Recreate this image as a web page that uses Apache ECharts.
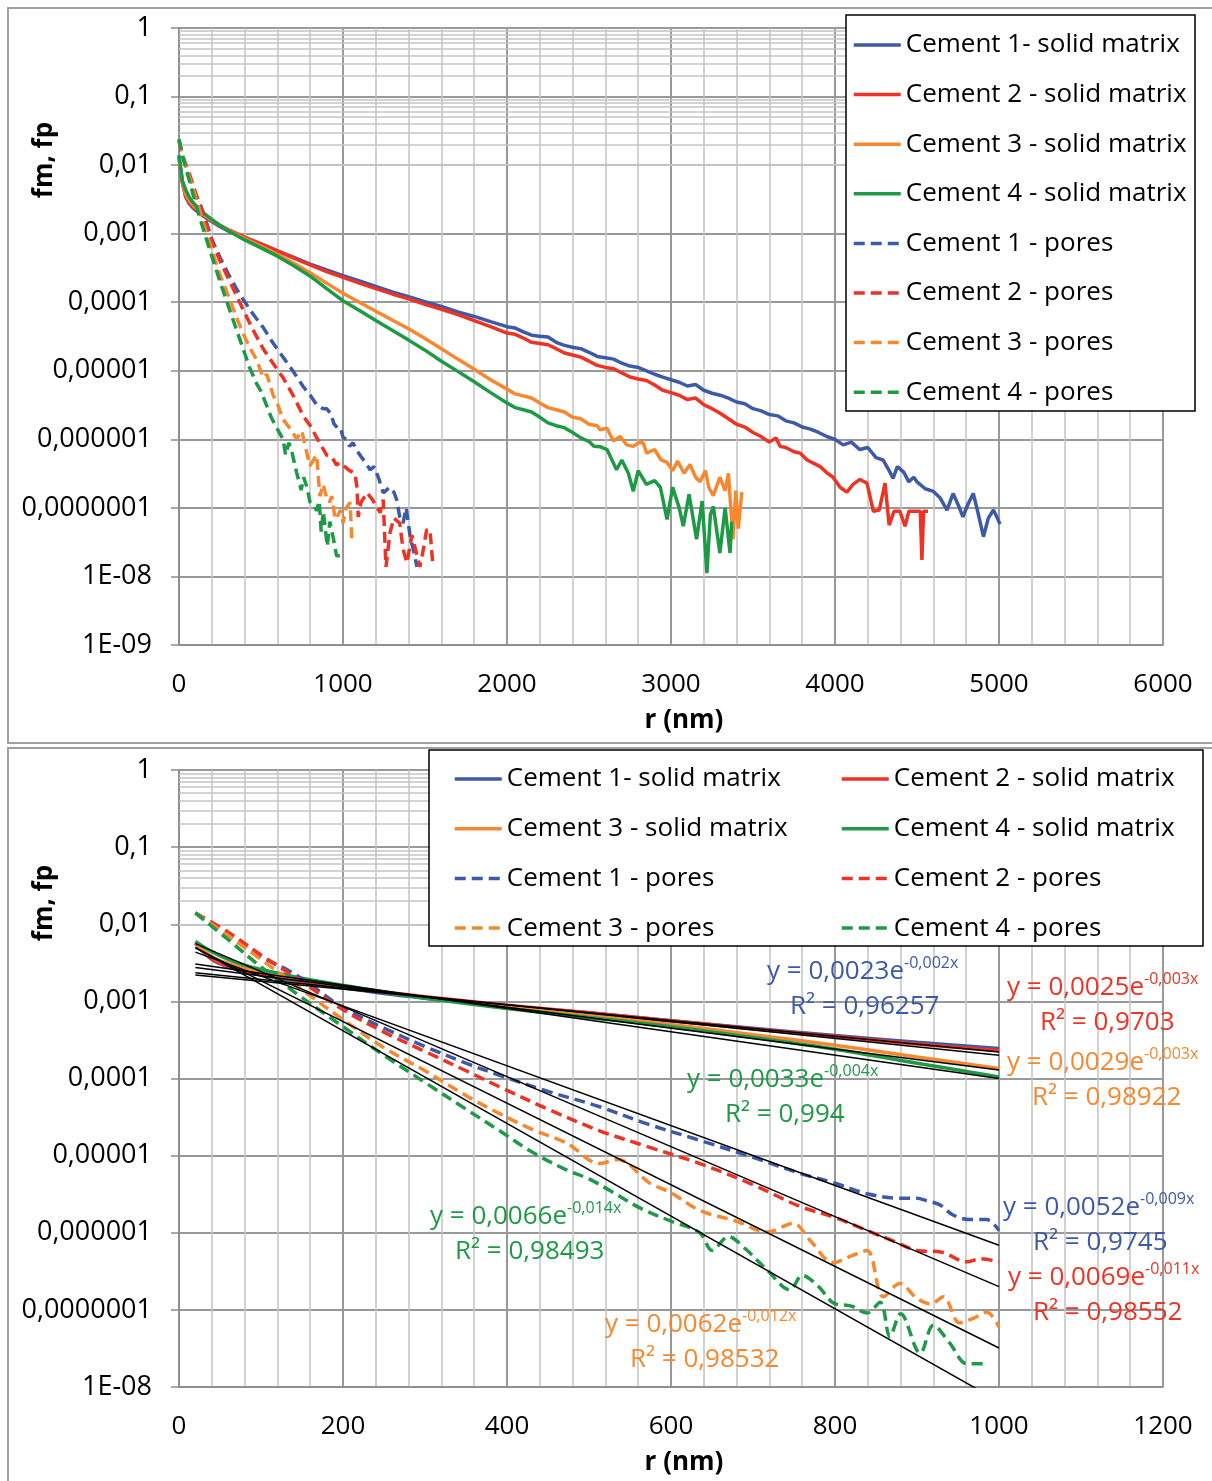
<!DOCTYPE html>
<html>
<head>
<meta charset="utf-8">
<title>fm, fp vs r</title>
<script src="https://cdn.jsdelivr.net/npm/echarts@6/dist/echarts.min.js"></script>
<style>
  html, body { margin: 0; padding: 0; background: #fff; }
  #main { width: 1212px; height: 1481px; }
</style>
</head>
<body>
<div id="main"></div>
<script>
// [r (nm), f] pairs
const cement1Solid = [[0,1.3e-2],[20,5.7e-3],[40,3.5e-3],[60,2.8e-3],[80,2.45e-3],[100,2.2e-3],[150,1.8e-3],[200,1.5e-3],[250,1.26e-3],[300,1.1e-3],[400,8.7e-4],[500,7.1e-4],[600,5.6e-4],[700,4.5e-4],[800,3.6e-4],[900,2.95e-4],[1000,2.45e-4],[1100,2.05e-4],[1200,1.7e-4],[1300,1.41e-4],[1400,1.2e-4],[1500,1.02e-4],[1600,8.7e-5],[1700,7.2e-5],[1800,6.2e-5],[1900,5.2e-5],[2000,4.4e-5],[2050,4.2e-5],[2100,3.7e-5],[2150,3.3e-5],[2200,3.2e-5],[2250,3.1e-5],[2300,2.6e-5],[2350,2.35e-5],[2400,2.2e-5],[2450,2.1e-5],[2500,1.86e-5],[2550,1.62e-5],[2600,1.55e-5],[2650,1.48e-5],[2700,1.29e-5],[2750,1.17e-5],[2800,1.12e-5],[2850,1.0e-5],[2900,8.9e-6],[2950,8.1e-6],[3000,7.4e-6],[3050,6.8e-6],[3100,6.0e-6],[3150,6.3e-6],[3200,5.2e-6],[3250,4.7e-6],[3300,4.4e-6],[3350,4.0e-6],[3400,3.5e-6],[3450,3.3e-6],[3500,2.8e-6],[3550,2.6e-6],[3600,2.3e-6],[3650,2.2e-6],[3700,1.86e-6],[3750,1.74e-6],[3800,1.51e-6],[3850,1.41e-6],[3900,1.26e-6],[3950,1.1e-6],[4000,1.0e-6],[4050,8.3e-7],[4100,9.1e-7],[4150,7.1e-7],[4200,7.6e-7],[4250,5.4e-7],[4293,5.0e-7],[4330,3.5e-7],[4354,2.7e-7],[4380,4.0e-7],[4420,3.3e-7],[4450,2.4e-7],[4480,2.8e-7],[4500,2.4e-7],[4550,1.9e-7],[4600,1.74e-7],[4640,1.41e-7],[4683,9.3e-8],[4720,1.62e-7],[4750,1.12e-7],[4780,7.4e-8],[4810,1.12e-7],[4843,1.62e-7],[4870,8.9e-8],[4905,3.8e-8],[4935,7.1e-8],[4966,9.3e-8],[4990,7.1e-8],[5006,5.8e-8]];
const cement2Solid = [[0,1.3e-2],[20,5.7e-3],[40,3.55e-3],[60,2.9e-3],[80,2.5e-3],[100,2.3e-3],[150,1.86e-3],[200,1.55e-3],[250,1.32e-3],[300,1.15e-3],[400,8.9e-4],[500,7.1e-4],[600,5.6e-4],[700,4.4e-4],[800,3.5e-4],[900,2.8e-4],[1000,2.3e-4],[1100,1.9e-4],[1200,1.58e-4],[1300,1.32e-4],[1400,1.12e-4],[1500,9.3e-5],[1600,7.9e-5],[1700,6.6e-5],[1800,5.4e-5],[1900,4.4e-5],[2000,3.55e-5],[2050,3.4e-5],[2100,3.0e-5],[2150,2.6e-5],[2200,2.5e-5],[2250,2.4e-5],[2300,2.1e-5],[2350,1.82e-5],[2400,1.7e-5],[2450,1.58e-5],[2500,1.38e-5],[2550,1.2e-5],[2600,1.12e-5],[2650,1.07e-5],[2700,9.3e-6],[2750,8.1e-6],[2800,7.6e-6],[2850,7.2e-6],[2900,6.2e-6],[2950,5.2e-6],[3000,4.8e-6],[3050,4.4e-6],[3100,3.8e-6],[3150,4.0e-6],[3200,3.2e-6],[3250,2.8e-6],[3300,2.4e-6],[3350,2.0e-6],[3400,1.66e-6],[3450,1.51e-6],[3500,1.26e-6],[3543,1.12e-6],[3600,9.1e-7],[3640,1.05e-6],[3665,7.9e-7],[3700,7.6e-7],[3750,6.6e-7],[3787,6.3e-7],[3830,5.0e-7],[3868,4.5e-7],[3910,4.0e-7],[3947,3.3e-7],[3988,2.8e-7],[4031,2.0e-7],[4072,1.7e-7],[4110,2.2e-7],[4152,2.6e-7],[4195,2.3e-7],[4234,8.9e-8],[4270,9.3e-8],[4305,2.3e-7],[4330,5.6e-8],[4360,8.9e-8],[4396,8.9e-8],[4427,5.4e-8],[4450,8.9e-8],[4520,8.9e-8],[4530,1.74e-8],[4540,8.9e-8],[4567,8.9e-8]];
const cement3Solid = [[0,1.26e-2],[20,5.7e-3],[40,3.8e-3],[60,3.1e-3],[80,2.7e-3],[100,2.4e-3],[150,1.9e-3],[200,1.58e-3],[250,1.32e-3],[300,1.12e-3],[400,8.5e-4],[500,6.6e-4],[600,5.0e-4],[700,3.7e-4],[800,2.7e-4],[900,1.9e-4],[1000,1.35e-4],[1100,1.0e-4],[1200,7.4e-5],[1300,5.5e-5],[1400,4.1e-5],[1500,2.95e-5],[1600,2.1e-5],[1700,1.48e-5],[1800,1.05e-5],[1900,7.4e-6],[2000,5.4e-6],[2050,4.6e-6],[2100,4.3e-6],[2150,4.0e-6],[2200,3.4e-6],[2250,2.9e-6],[2300,2.7e-6],[2350,2.5e-6],[2400,2.1e-6],[2450,2.0e-6],[2500,1.66e-6],[2550,1.58e-6],[2567,1.38e-6],[2610,1.45e-6],[2648,9.5e-7],[2690,1.1e-6],[2730,8.3e-7],[2770,7.9e-7],[2800,8.9e-7],[2830,8.9e-7],[2852,6.3e-7],[2900,7.1e-7],[2940,5.0e-7],[2976,4.6e-7],[3010,3.5e-7],[3040,4.8e-7],[3080,3.2e-7],[3116,4.3e-7],[3150,2.8e-7],[3177,2.4e-7],[3210,3.5e-7],[3230,2.0e-7],[3258,1.51e-7],[3298,2.8e-7],[3330,1.78e-7],[3350,3.2e-7],[3378,3.5e-8],[3395,1.78e-7],[3410,5.0e-8],[3432,1.7e-7]];
const cement4Solid = [[0,1.4e-2],[20,6.0e-3],[40,4.4e-3],[60,3.5e-3],[80,2.95e-3],[100,2.6e-3],[150,2.0e-3],[200,1.62e-3],[250,1.32e-3],[300,1.1e-3],[400,8.1e-4],[500,6.2e-4],[600,4.7e-4],[700,3.4e-4],[800,2.4e-4],[900,1.58e-4],[1000,1.05e-4],[1100,7.6e-5],[1200,5.4e-5],[1300,3.9e-5],[1400,2.8e-5],[1500,2.0e-5],[1600,1.38e-5],[1700,9.8e-6],[1800,6.9e-6],[1900,4.8e-6],[2000,3.4e-6],[2050,2.9e-6],[2100,2.7e-6],[2150,2.5e-6],[2200,2.1e-6],[2250,1.74e-6],[2300,1.58e-6],[2350,1.48e-6],[2400,1.26e-6],[2450,1.05e-6],[2500,9.3e-7],[2530,7.9e-7],[2567,7.8e-7],[2610,7.1e-7],[2668,3.6e-7],[2700,5.0e-7],[2740,3.2e-7],[2770,1.74e-7],[2800,3.5e-7],[2850,2.2e-7],[2900,2.5e-7],[2935,2.0e-7],[2976,6.8e-8],[3010,2.0e-7],[3050,1.0e-7],[3075,5.4e-8],[3110,1.58e-7],[3156,3.5e-8],[3190,1.26e-7],[3219,1.12e-8],[3240,7.9e-8],[3258,1.05e-7],[3298,2.2e-8],[3330,1.0e-7],[3360,2.2e-8],[3370,6.3e-8]];

const cement1Pores = [[0,2.3e-2],[20,1.4e-2],[60,7.1e-3],[100,3.8e-3],[131,2.6e-3],[152,1.9e-3],[200,8.3e-4],[250,4.5e-4],[300,2.6e-4],[350,1.58e-4],[391,1.1e-4],[450,6.8e-5],[513,4.3e-5],[570,2.6e-5],[635,1.58e-5],[700,9.5e-6],[757,5.9e-6],[800,4.4e-6],[839,3.2e-6],[879,2.8e-6],[900,2.8e-6],[912,2.6e-6],[928,2.3e-6],[944,1.7e-6],[965,1.48e-6],[985,1.48e-6],[1000,1.07e-6],[1020,1.0e-6],[1040,7.9e-7],[1061,8.9e-7],[1080,7.1e-7],[1110,5.6e-7],[1140,4.5e-7],[1165,3.6e-7],[1190,4.0e-7],[1220,2.6e-7],[1245,1.66e-7],[1285,2.0e-7],[1310,1.7e-7],[1327,1.32e-7],[1346,7.4e-8],[1366,6.0e-8],[1385,1.0e-7],[1410,3.8e-8],[1428,2.5e-8],[1451,1.38e-8]];
const cement2Pores = [[0,2.3e-2],[20,1.4e-2],[60,7.9e-3],[100,4.0e-3],[152,1.74e-3],[200,7.8e-4],[250,4.0e-4],[300,2.24e-4],[350,1.26e-4],[391,7.8e-5],[450,4.0e-5],[513,2.1e-5],[570,1.32e-5],[635,7.9e-6],[700,4.2e-6],[757,2.2e-6],[800,1.58e-6],[839,1.07e-6],[870,7.9e-7],[900,5.9e-7],[930,5.6e-7],[961,4.2e-7],[977,4.6e-7],[1000,4.2e-7],[1040,3.5e-7],[1073,3.2e-7],[1085,2.0e-7],[1093,7.4e-8],[1110,1.2e-7],[1146,1.66e-7],[1180,1.32e-7],[1226,8.5e-8],[1245,1.32e-7],[1262,1.38e-8],[1287,4.4e-8],[1310,7.1e-8],[1346,6.0e-8],[1366,2.5e-8],[1390,1.58e-8],[1420,4.0e-8],[1469,1.38e-8],[1490,2.5e-8],[1510,4.8e-8],[1530,4.8e-8],[1549,1.38e-8]];
const cement3Pores = [[0,2.3e-2],[20,1.4e-2],[60,7.1e-3],[100,3.5e-3],[150,1.41e-3],[200,5.8e-4],[250,2.5e-4],[300,1.26e-4],[350,6.0e-5],[391,3.5e-5],[430,2.2e-5],[473,1.45e-5],[513,7.9e-6],[535,8.9e-6],[574,4.4e-6],[600,3.3e-6],[635,1.95e-6],[680,1.41e-6],[717,1.02e-6],[749,1.32e-6],[770,7.9e-7],[798,4.1e-7],[820,5.0e-7],[839,5.9e-7],[859,1.48e-7],[879,2.2e-7],[900,1.41e-7],[917,1.2e-7],[932,1.48e-7],[952,6.8e-8],[970,7.9e-8],[985,9.3e-8],[1000,6.0e-8],[1020,1.0e-7],[1043,1.2e-7],[1055,3.1e-8]];
const cement4Pores = [[0,2.4e-2],[20,1.4e-2],[60,6.3e-3],[100,2.8e-3],[150,1.12e-3],[200,4.7e-4],[250,2.0e-4],[300,8.9e-5],[350,4.0e-5],[391,2.1e-5],[430,1.12e-5],[473,6.5e-6],[500,5.0e-6],[526,3.5e-6],[562,2.1e-6],[600,1.41e-6],[635,1.0e-6],[650,5.9e-7],[670,8.9e-7],[690,6.3e-7],[717,3.3e-7],[745,1.82e-7],[760,2.8e-7],[780,2.0e-7],[798,1.23e-7],[820,1.12e-7],[839,9.1e-8],[855,1.26e-7],[867,4.5e-8],[880,8.9e-8],[904,2.75e-8],[920,6.3e-8],[940,3.7e-8],[961,2.0e-8],[981,2.0e-8]];

// exponential trendlines of the lower plot, end points [r, f]
const trendSolid = [
  [[20, 2.2e-3], [1000, 2.2e-4]],
  [[20, 2.35e-3], [1000, 2.0e-4]],
  [[20, 2.75e-3], [1000, 1.29e-4]],
  [[20, 3.05e-3], [1000, 1.0e-4]]
];
const trendPores = [
  [[20, 4.35e-3], [1000, 6.9e-7]],
  [[20, 5.6e-3], [1000, 2.0e-7]],
  [[20, 4.9e-3], [1000, 3.2e-8]],
  [[20, 5.0e-3], [1000, 6.5e-9]]
];
// trendline labels: solid 1..4, then pores 1..4
const fitCoef = ['0,0023', '0,0025', '0,0029', '0,0033', '0,0052', '0,0069', '0,0062', '0,0066'];
const fitExp = ['-0,002x', '-0,003x', '-0,003x', '-0,004x', '-0,009x', '-0,011x', '-0,012x', '-0,014x'];
const fitR2 = ['0,96257', '0,9703', '0,98922', '0,994', '0,9745', '0,98552', '0,98532', '0,98493'];

const seriesNames = ['Cement 1- solid matrix', 'Cement 2 - solid matrix', 'Cement 3 - solid matrix', 'Cement 4 - solid matrix',
  'Cement 1 - pores', 'Cement 2 - pores', 'Cement 3 - pores', 'Cement 4 - pores'];
const yTickLabels = ['1', '0,1', '0,01', '0,001', '0,0001', '0,00001', '0,000001', '0,0000001', '1E-08', '1E-09'];
const xTopTicks = [0, 6000, 1000];
const xBottomTicks = [0, 1200, 200];

const colors = ['#3D5AA8', '#EE3224', '#F7882F', '#1E9A47'];
const FONT = '"Open Sans", "Noto Sans", sans-serif';

var myChart = echarts.init(document.getElementById('main'));

const solidSets = [cement1Solid, cement2Solid, cement3Solid, cement4Solid];
const poreSets = [cement1Pores, cement2Pores, cement3Pores, cement4Pores];
const zoomPart = d => d.filter(p => p[0] >= 20 && p[0] <= 1000);

// Excel-style log minor gridlines (2..9 in each decade)
function logMinor(lo, hi) {
  let out = [];
  for (let e = lo; e < hi; e++) {
    for (let m = 2; m <= 9; m++) out.push({ yAxis: m * Math.pow(10, e) });
  }
  return out;
}

function xAxisOpt(idx, ticks) {
  return {
    gridIndex: idx, type: 'value', min: ticks[0], max: ticks[1], interval: ticks[2],
    name: 'r (nm)', nameLocation: 'middle', nameGap: 63,
    nameTextStyle: { fontSize: 26, fontWeight: 'bold', color: '#000', fontFamily: FONT, padding: [0, 0, 0, 26] },
    axisLine: { show: true, lineStyle: { color: '#8c8c8c', width: 1.5 } },
    axisTick: { show: false },
    axisLabel: { fontSize: 26, color: '#000', margin: 27, fontFamily: FONT, formatter: v => String(v) },
    splitLine: { show: true, lineStyle: { color: '#999999', width: 2 } },
    minorTick: { show: false, splitNumber: 5 },
    minorSplitLine: { show: true, lineStyle: { color: '#c4c4c4', width: 1.5 } }
  };
}

function yAxisOpt(idx, minExp) {
  return {
    gridIndex: idx, type: 'log', logBase: 10, min: Math.pow(10, minExp), max: 1,
    axisLine: { show: true, onZero: false, lineStyle: { color: '#8c8c8c', width: 1.5 } },
    axisTick: { show: true, length: 8, lineStyle: { color: '#8c8c8c', width: 1.5 } },
    axisLabel: {
      fontSize: 27, color: '#000', margin: 27, fontFamily: FONT,
      formatter: v => yTickLabels[Math.round(-Math.log10(v))]
    },
    splitLine: { show: true, lineStyle: { color: '#999999', width: 2 } }
  };
}

let series = [];
[0, 1].forEach(g => {
  series.push({
    type: 'line', name: 'minor-grid-' + g, xAxisIndex: g, yAxisIndex: g, data: [], silent: true,
    markLine: {
      silent: true, z: 1, symbol: ['none', 'none'], label: { show: false },
      lineStyle: { color: '#c4c4c4', width: 1.5, type: 'solid' },
      data: logMinor(g === 0 ? -9 : -8, 0)
    }
  });
});

function dataSeries(g, i, dashed, data) {
  return {
    type: 'line', name: seriesNames[i + (dashed ? 4 : 0)], xAxisIndex: g, yAxisIndex: g,
    data: data, showSymbol: false, symbol: 'none', smooth: g === 1 ? 0.35 : false,
    color: colors[i],
    lineStyle: { width: 3.5, color: colors[i], type: dashed ? [11, 6] : 'solid' },
    z: 2
  };
}

for (let i = 0; i < 4; i++) series.push(dataSeries(0, i, false, solidSets[i]));
for (let i = 0; i < 4; i++) series.push(dataSeries(0, i, true, poreSets[i]));
for (let i = 0; i < 4; i++) series.push(dataSeries(1, i, false, zoomPart(solidSets[i])));
for (let i = 0; i < 4; i++) series.push(dataSeries(1, i, true, zoomPart(poreSets[i])));
trendSolid.concat(trendPores).forEach((t, k) => {
  series.push({
    type: 'line', name: 'trend-' + k, xAxisIndex: 1, yAxisIndex: 1, data: t,
    symbol: 'none', silent: true, clip: true,
    lineStyle: { color: '#000', width: 1.5 }, z: 3
  });
});

// label positions (left x, middle y) of equation and R² lines
const fitLabelPos = [[767, 972], [1007, 988], [1007, 1063], [687, 1080], [1003, 1208], [1008, 1278], [605, 1325], [430, 1217]];
const r2Offset = [23, 33, 25, 38, 30, 25, 25, 25];

let graphics = [
  { type: 'rect', z: 0, silent: true, shape: { x: 8, y: 8, width: 1230, height: 735 }, style: { fill: 'none', stroke: '#a0a0a0', lineWidth: 2 } },
  { type: 'rect', z: 0, silent: true, shape: { x: 8, y: 748, width: 1230, height: 760 }, style: { fill: 'none', stroke: '#a0a0a0', lineWidth: 2 } },
  { type: 'rect', z: 3, silent: true, shape: { x: 846, y: 15, width: 349, height: 396 }, style: { fill: '#fff', stroke: '#000', lineWidth: 1.5 } },
  { type: 'rect', z: 3, silent: true, shape: { x: 429, y: 750, width: 774, height: 196 }, style: { fill: '#fff', stroke: '#000', lineWidth: 1.5 } },
  { type: 'text', z: 10, x: 45, y: 160, rotation: Math.PI / 2, style: { text: 'fm, fp', fontSize: 26, fontWeight: 'bold', fontFamily: FONT, fill: '#000', align: 'center', verticalAlign: 'middle' } },
  { type: 'text', z: 10, x: 45, y: 903, rotation: Math.PI / 2, style: { text: 'fm, fp', fontSize: 26, fontWeight: 'bold', fontFamily: FONT, fill: '#000', align: 'center', verticalAlign: 'middle' } }
];
fitCoef.forEach((c, k) => {
  const col = colors[k % 4];
  const p = fitLabelPos[k];
  graphics.push({
    type: 'text', z: 10, x: p[0], y: p[1], silent: true,
    style: {
      text: '{b|y = ' + c + 'e}{s|' + fitExp[k] + '}', align: 'left', verticalAlign: 'middle',
      rich: {
        b: { fontSize: 26, fontFamily: FONT, fill: col, lineHeight: 34 },
        s: { fontSize: 16, fontFamily: FONT, fill: col, verticalAlign: 'top', lineHeight: 20 }
      }
    }
  });
  graphics.push({
    type: 'text', z: 10, x: p[0] + r2Offset[k], y: p[1] + 35, silent: true,
    style: { text: 'R\u00b2 = ' + fitR2[k], fontSize: 26, fontFamily: FONT, fill: col, align: 'left', verticalAlign: 'middle' }
  });
});

const legendBase = {
  orient: 'vertical', itemWidth: 47, itemHeight: 14, padding: 0, selectedMode: false,
  itemStyle: { opacity: 0 },
  lineStyle: { width: 3.5 },
  textStyle: { fontSize: 26, color: '#000', fontFamily: FONT }, z: 4
};

let option = {
  animation: false,
  textStyle: { fontFamily: FONT },
  grid: [
    { left: 179, top: 28, width: 984, height: 617 },
    { left: 179, top: 770, width: 984, height: 617 }
  ],
  xAxis: [xAxisOpt(0, xTopTicks), xAxisOpt(1, xBottomTicks)],
  yAxis: [yAxisOpt(0, -9), yAxisOpt(1, -8)],
  legend: [
    Object.assign({}, legendBase, { left: 852, top: 32, itemGap: 23.6, data: seriesNames }),
    Object.assign({}, legendBase, { left: 453, top: 766, itemGap: 23.7, data: [seriesNames[0], seriesNames[2], seriesNames[4], seriesNames[6]] }),
    Object.assign({}, legendBase, { left: 840, top: 766, itemGap: 23.7, data: [seriesNames[1], seriesNames[3], seriesNames[5], seriesNames[7]] })
  ],
  graphic: graphics,
  series: series
};
myChart.setOption(option);
</script>
</body>
</html>
